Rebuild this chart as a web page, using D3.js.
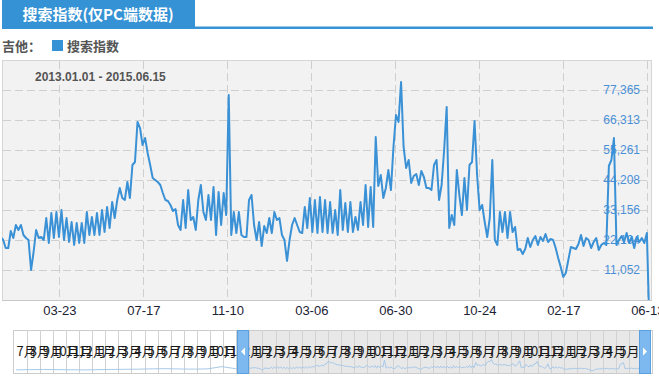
<!DOCTYPE html>
<html>
<head>
<meta charset="utf-8">
<title>搜索指数(仅PC端数据)</title>
<style>
    body { margin: 0; background: #fff; }
    svg { display: block; font-family: "Liberation Sans", Arial, sans-serif; }
    .cjk { font-family: "Noto Sans CJK SC", "Noto Sans", sans-serif; }
</style>
</head>
<body>
<div class="plot_container"></div>
<script src="https://cdn.jsdelivr.net/npm/d3@7/dist/d3.min.js"></script>
<script type="text/javascript">
// data, one value every 3.5 days from 2013-01-01
var startDate = "2013-01-01";
var endDate = "2015-06-15";
var stepDays = 3.5;
var values = [
    23210, 22100, 19160, 19160, 25420, 22840, 27630, 25790, 27630, 23950,
    22840, 22100, 11050, 17680, 25790, 22840, 23210, 22100, 30210, 21000,
    32050, 22840, 32420, 23210, 33160, 22100, 30210, 21370, 28740, 20260,
    28370, 21000, 28370, 21000, 32420, 23950, 30580, 23950, 32050, 23950,
    33160, 25050, 34260, 26520, 36100, 30210, 36840, 41260, 37580, 36840,
    43470, 37580, 49730, 50840, 65580, 63360, 57100, 59680, 54150, 49730,
    44940, 44210, 43470, 42370, 39420, 36840, 36470, 35000, 32790, 33520,
    27630, 25790, 36840, 26520, 40520, 29470, 30580, 25790, 36840, 42370,
    32420, 29470, 38680, 29470, 41630, 23950, 39790, 27630, 39420, 31310,
    75520, 23950, 32420, 24680, 32420, 23950, 23210, 23210, 36840, 38680,
    27630, 22100, 28740, 19890, 27260, 24680, 30210, 24680, 32420, 29470,
    30210, 23950, 22100, 14370, 22100, 27630, 30210, 27630, 25050, 24680,
    34260, 26520, 37580, 25050, 36840, 24680, 37950, 25050, 36840, 24680,
    36100, 24680, 33160, 23950, 40520, 25790, 35730, 25050, 36100, 25050,
    30580, 25790, 36100, 27630, 42370, 26890, 41630, 26890, 60050, 42000,
    46050, 37580, 41260, 47890, 40520, 56370, 68150, 65580, 80310, 56370,
    48630, 51580, 43100, 45680, 46420, 42370, 47520, 45310, 41260, 41260,
    40520, 49730, 51580, 36840, 42370, 55260, 71100, 26520, 31310, 27630,
    47890, 38680, 31310, 44940, 33160, 49730, 50840, 65940, 46050, 33160,
    35000, 28740, 23210, 30210, 51580, 22100, 20260, 32420, 25050, 32420,
    22840, 32420, 25050, 26890, 18420, 18790, 16950, 18790, 22840, 19530,
    22100, 23580, 20260, 23210, 21740, 24310, 21370, 22470, 22100, 19160,
    15470, 12160, 8470, 9950, 14740, 19530, 19160, 18790, 20630, 23950,
    19890, 22840, 22100, 19160, 21370, 22840, 18420, 20260, 21000, 20260,
    49370, 51580, 59680, 20260, 22100, 23580, 21370, 24680, 21000, 23210,
    19160, 23210, 21370, 22840, 21000, 24680
];
var lastValue = 0;   // 2015-06-15

var yTicks = [11052, 22104, 33156, 44208, 55261, 66313, 77365];
var yMax = 88417;
var xTicks = ["2013-03-23", "2013-07-17", "2013-11-10", "2014-03-06",
              "2014-06-30", "2014-10-24", "2015-02-17", "2015-06-13"];

// navigator strip
var navStart = "2011-08-08";
var navEarlyMonths = ["2011-08-15", "2011-09-15", "2011-10-15", "2011-11-15", "2011-12-15",
                      "2012-01-15", "2012-02-15", "2012-03-15", "2012-04-15", "2012-05-15",
                      "2012-06-15", "2012-07-15", "2012-08-15", "2012-09-15", "2012-10-15",
                      "2012-11-15", "2012-12-15"];
var navEarly = [14000, 15000, 16000, 15000, 14000, 13000, 15000, 16000, 17000,
                18000, 20000, 21000, 19000, 18000, 20000, 34000, 21000];
var navLabels = ["7月","8月","9月","10月","11月","12月","1月","2月","3月","4月","5月","6月",
                 "7月","8月","9月","10月","11月","12月","1月","2月","3月","4月","5月","6月",
                 "7月","8月","9月","10月","11月","12月","1月","2月","3月","4月","5月","6月",
                 "7月","8月","9月","10月","11月","12月","1月","2月","3月","4月","5月"];

(function(){
    var width = 659, height = 380;
    var blue = "#3592d4";
    var lineBlue = "#3a91d6";

    var svg = d3.select(".plot_container").append("svg")
            .attr("width", width)
            .attr("height", height);

    // header tab
    svg.append("rect").attr("x", 2).attr("y", 0).attr("width", 193).attr("height", 29).style("fill", blue);
    svg.append("rect").attr("x", 2).attr("y", 26.5).attr("width", 651).attr("height", 2.5).style("fill", blue);
    svg.append("text").attr("class", "cjk")
            .attr("x", 98).attr("y", 20)
            .attr("text-anchor", "middle")
            .style("font-size", "15px").style("font-weight", "bold").style("fill", "#fff")
            .text("搜索指数(仅PC端数据)");

    // legend
    svg.append("text").attr("class", "cjk")
            .attr("x", 2).attr("y", 51)
            .style("font-size", "13px").style("font-weight", "bold").style("fill", "#555")
            .text("吉他：");
    svg.append("rect").attr("x", 52).attr("y", 40).attr("width", 11).attr("height", 11).style("fill", blue);
    svg.append("text").attr("class", "cjk")
            .attr("x", 67).attr("y", 51)
            .style("font-size", "13px").style("font-weight", "bold").style("fill", "#555")
            .text("搜索指数");

    // main plot
    var plotLeft = 2, plotRight = 651, plotTop = 60, plotBottom = 300;
    var parseDate = d3.utcParse("%Y-%m-%d");
    var t0 = parseDate(startDate), t1 = parseDate(endDate);

    var series = values.map(function(v, i){
        return {date: new Date(t0.getTime() + i * stepDays * 864e5), value: v};
    });
    series.push({date: t1, value: lastValue});

    var x = d3.scaleUtc().domain([t0, t1]).range([0.65, 648.7]);
    var y = d3.scaleLinear().domain([0, yMax]).range([plotBottom, plotTop]);

    svg.append("rect")
            .attr("x", plotLeft + 0.5).attr("y", plotTop + 0.5)
            .attr("width", plotRight - plotLeft).attr("height", plotBottom - plotTop)
            .style("fill", "#f2f2f2")
            .style("stroke", "#d6d6d6")
            .style("stroke-width", 1);

    svg.append("defs").append("clipPath").attr("id", "plot_clip")
            .append("rect").attr("x", plotLeft).attr("y", plotTop)
            .attr("width", plotRight - plotLeft).attr("height", plotBottom - plotTop);

    svg.selectAll(".hgrid")
            .data(yTicks)
            .enter()
            .append("line")
            .attr("class", "hgrid")
            .attr("x1", plotLeft + 1).attr("x2", plotRight)
            .attr("y1", function(d){ return Math.round(y(d)) + 0.5; })
            .attr("y2", function(d){ return Math.round(y(d)) + 0.5; })
            .style("stroke", "#cfcfcf")
            .style("stroke-dasharray", "8,4");

    svg.selectAll(".vgrid")
            .data(xTicks)
            .enter()
            .append("line")
            .attr("class", "vgrid")
            .attr("x1", function(d){ return Math.round(x(parseDate(d))) + 0.5; })
            .attr("x2", function(d){ return Math.round(x(parseDate(d))) + 0.5; })
            .attr("y1", plotTop + 1).attr("y2", plotBottom)
            .style("stroke", "#cfcfcf")
            .style("stroke-dasharray", "8,4");

    svg.append("line")
            .attr("x1", plotLeft).attr("x2", plotRight + 1)
            .attr("y1", plotBottom + 0.5).attr("y2", plotBottom + 0.5)
            .style("stroke", "#c8c8c8");

    svg.append("text")
            .attr("x", 35).attr("y", 81)
            .style("font-size", "12px").style("font-weight", "bold").style("fill", "#555")
            .text(startDate.replace(/-/g, ".") + " - " + endDate.replace(/-/g, "."));

    // y labels sit under the line
    svg.selectAll(".ylabel")
            .data(yTicks)
            .enter()
            .append("text")
            .attr("class", "ylabel")
            .attr("x", 640)
            .attr("y", function(d){ return y(d); })
            .attr("dy", "0.36em")
            .attr("text-anchor", "end")
            .style("font-size", "12px")
            .style("fill", "#4a8fd6")
            .text(d3.format(","));

    var line = d3.line()
            .x(function(d){ return x(d.date); })
            .y(function(d){ return y(d.value); });

    svg.append("path")
            .datum(series)
            .attr("clip-path", "url(#plot_clip)")
            .attr("d", line)
            .style("fill", "none")
            .style("stroke", lineBlue)
            .style("stroke-width", 2)
            .style("stroke-linejoin", "round");

    var xAxis = d3.axisBottom(x)
            .tickValues(xTicks.map(parseDate))
            .tickFormat(d3.utcFormat("%m-%d"))
            .tickSize(0)
            .tickPadding(6);

    var gx = svg.append("g")
            .attr("transform", "translate(0," + plotBottom + ")")
            .call(xAxis);
    gx.select(".domain").remove();
    gx.selectAll("text")
            .style("font-family", "'Liberation Sans', Arial, sans-serif")
            .style("font-size", "13px")
            .style("fill", "#1c2233");

    // navigator
    var navTop = 330, navBottom = 373, navLeft = 13, navRight = 652;
    var navX = d3.scaleUtc().domain([parseDate(navStart), t1]).range([navLeft, 645]);
    var navY = d3.scaleLinear().domain([0, yMax]).range([372, 358]);
    var navPos = d3.scalePoint().domain(d3.range(navLabels.length)).range([26.7, 629.3]);

    svg.append("rect")
            .attr("x", navLeft + 0.5).attr("y", navTop + 0.5)
            .attr("width", navRight - navLeft).attr("height", navBottom - navTop)
            .style("fill", "#fff")
            .style("stroke", "#cccccc");

    svg.append("rect")
            .attr("x", navX(t0)).attr("y", navTop + 1)
            .attr("width", navX(t1) - navX(t0)).attr("height", navBottom - navTop - 1)
            .style("fill", "#e8e8e8");

    svg.selectAll(".navline")
            .data(navLabels)
            .enter()
            .append("line")
            .attr("class", "navline")
            .attr("x1", function(d, i){ return Math.round(navPos(i)) + 0.5; })
            .attr("x2", function(d, i){ return Math.round(navPos(i)) + 0.5; })
            .attr("y1", navTop).attr("y2", navBottom)
            .style("stroke", "#d2d2d2");

    var navSeries = navEarlyMonths.map(function(d, i){
        return {date: parseDate(d), value: navEarly[i]};
    }).concat(series);

    svg.append("path")
            .datum(navSeries)
            .attr("d", d3.line()
                    .x(function(d){ return navX(d.date); })
                    .y(function(d){ return navY(d.value); }))
            .style("fill", "none")
            .style("stroke", "#a7c9e8")
            .style("stroke-width", 1);

    svg.selectAll(".navlabel")
            .data(navLabels)
            .enter()
            .append("text")
            .attr("class", "navlabel cjk")
            .attr("x", function(d, i){ return navPos(i); })
            .attr("y", 351)
            .attr("dy", "0.36em")
            .attr("text-anchor", "middle")
            .style("font-size", "13px")
            .style("fill", "#1a1a1a")
            .text(function(d){ return d; });

    // handles
    var handles = [{t: t0, dir: -1}, {t: t1, dir: 1}];
    var hg = svg.selectAll(".handle")
            .data(handles)
            .enter()
            .append("g")
            .attr("class", "handle")
            .attr("transform", function(d){ return "translate(" + Math.round(navX(d.t)) + ",0)"; });
    hg.append("rect")
            .attr("x", -5.5).attr("y", navTop + 0.5)
            .attr("width", 11).attr("height", navBottom - navTop)
            .style("fill", "#7db8ee")
            .style("stroke", "#5a9fe0");
    hg.append("path")
            .attr("d", function(d){
                var c = (navTop + navBottom) / 2;
                return "M" + (-2 * d.dir) + "," + (c - 4) + "L" + (2 * d.dir) + "," + c + "L" + (-2 * d.dir) + "," + (c + 4) + "Z";
            })
            .style("fill", "#fff");
})();
</script>
</body>
</html>
